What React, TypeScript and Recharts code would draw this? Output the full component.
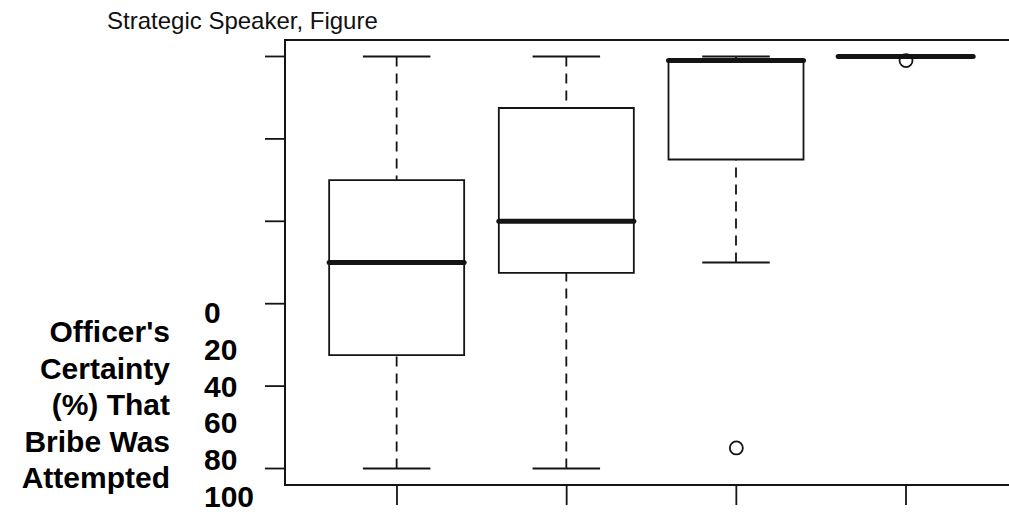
import { ComposedChart, Bar, Scatter, XAxis, YAxis, ReferenceArea } from 'recharts';

// one box per group, R style (hinges + whiskers)
const groups = [1, 2, 3, 4];
const whiskerLow = [0, 0, 50, 100];
const lowerHinge = [27.5, 47.5, 75, 100];
const medians = [50, 60, 99, 100];
const upperHinge = [70, 87.5, 99, 100];
const whiskerHigh = [100, 100, 100, 100];

const outlierGroups = [3, 4];
const outlierValues = [5, 99];

const yTicks = [0, 20, 40, 60, 80, 100];
const yTickLabels = ['0', '20', '40', '60', '80', '100'];
const yTitleLines = ["Officer's", 'Certainty', '(%) That', 'Bribe Was', 'Attempted'];
const title = 'Strategic Speaker, Figure';

const boxData = groups.map((pos, i) => ({
  pos,
  base: whiskerLow[i],
  lowWhisker: lowerHinge[i] - whiskerLow[i],
  lowBox: medians[i] - lowerHinge[i],
  highBox: upperHinge[i] - medians[i],
  highWhisker: whiskerHigh[i] - upperHinge[i],
}));

const outliers = outlierGroups.map((pos, i) => ({ pos, value: outlierValues[i] }));

const INK = '#141414';
const FONT = '"Liberation Sans", Arial, sans-serif';
const LW = 1.8;

type ShapeProps = { x: number; y: number; width: number; height: number };

const Empty = () => <g />;

function LowWhisker({ x, y, width, height }: ShapeProps) {
  const cx = x + width / 2;
  const bottom = y + height;
  return (
    <g stroke={INK} strokeWidth={LW}>
      <line x1={cx} x2={cx} y1={bottom} y2={y} strokeDasharray="10 7" />
      <line x1={cx - width / 4} x2={cx + width / 4} y1={bottom} y2={bottom} />
    </g>
  );
}

function HighWhisker({ x, y, width, height }: ShapeProps) {
  const cx = x + width / 2;
  const bottom = y + height;
  return (
    <g stroke={INK} strokeWidth={LW}>
      <line x1={cx} x2={cx} y1={y} y2={bottom} strokeDasharray="10 7" />
      <line x1={cx - width / 4} x2={cx + width / 4} y1={y} y2={y} />
    </g>
  );
}

function LowBox({ x, y, width, height }: ShapeProps) {
  const bottom = y + height;
  return (
    <g stroke={INK} fill="none">
      <path d={`M${x},${y} L${x},${bottom} L${x + width},${bottom} L${x + width},${y}`} strokeWidth={LW} />
      <line x1={x} x2={x + width} y1={y} y2={y} strokeWidth={5} strokeLinecap="round" />
    </g>
  );
}

function HighBox({ x, y, width, height }: ShapeProps) {
  const bottom = y + height;
  return (
    <path
      d={`M${x},${bottom} L${x},${y} L${x + width},${y} L${x + width},${bottom}`}
      stroke={INK}
      strokeWidth={LW}
      fill="none"
    />
  );
}

function OpenDot({ cx, cy }: { cx: number; cy: number }) {
  return <circle cx={cx} cy={cy} r={6.5} fill="none" stroke={INK} strokeWidth={LW} />;
}

export default function App() {
  return (
    <div
      style={{
        position: 'absolute',
        left: 0,
        top: 0,
        width: 1009,
        height: 512,
        overflow: 'hidden',
        background: '#fff',
      }}
    >
      <ComposedChart
        width={1040}
        height={512}
        data={boxData}
        margin={{ top: 40, right: 22, bottom: 0, left: 0 }}
      >
        <XAxis
          dataKey="pos"
          type="number"
          domain={[0.34, 4.66]}
          allowDataOverflow
          ticks={groups}
          tickFormatter={() => ''}
          tickSize={20}
          height={27}
          stroke={INK}
          axisLine={{ stroke: INK, strokeWidth: 2 }}
          tickLine={{ stroke: INK, strokeWidth: LW }}
        />
        <YAxis
          type="number"
          domain={[-4, 104]}
          allowDataOverflow
          ticks={yTicks}
          tickFormatter={() => ''}
          tickSize={20}
          width={285}
          axisLine={{ stroke: INK, strokeWidth: 2 }}
          tickLine={{ stroke: INK, strokeWidth: LW }}
        />
        <ReferenceArea
          x1={0.34}
          x2={4.66}
          y1={-4}
          y2={104}
          fill="none"
          fillOpacity={0}
          stroke={INK}
          strokeWidth={2}
          ifOverflow="visible"
        />
        <Bar dataKey="base" stackId="box" barSize={135} shape={Empty} isAnimationActive={false} />
        <Bar dataKey="lowWhisker" stackId="box" barSize={135} shape={LowWhisker} isAnimationActive={false} />
        <Bar dataKey="lowBox" stackId="box" barSize={135} shape={LowBox} isAnimationActive={false} />
        <Bar dataKey="highBox" stackId="box" barSize={135} shape={HighBox} isAnimationActive={false} />
        <Bar dataKey="highWhisker" stackId="box" barSize={135} shape={HighWhisker} isAnimationActive={false} />
        <Scatter data={outliers} dataKey="value" shape={OpenDot} isAnimationActive={false} />
      </ComposedChart>

      <svg
        width={1009}
        height={512}
        style={{ position: 'absolute', left: 0, top: 0, pointerEvents: 'none' }}
        fontFamily={FONT}
      >
        <text x={107} y={29} fontSize={24} fill="#111">
          {title}
        </text>
        {yTitleLines.map((line, i) => (
          <text key={line} x={170} y={342 + i * 36.5} fontSize={30} fontWeight="bold" textAnchor="end" fill="#000">
            {line}
          </text>
        ))}
        {yTickLabels.map((label, i) => (
          <text key={label} x={204} y={323 + i * 36.8} fontSize={30} fontWeight="bold" fill="#000">
            {label}
          </text>
        ))}
      </svg>
    </div>
  );
}
